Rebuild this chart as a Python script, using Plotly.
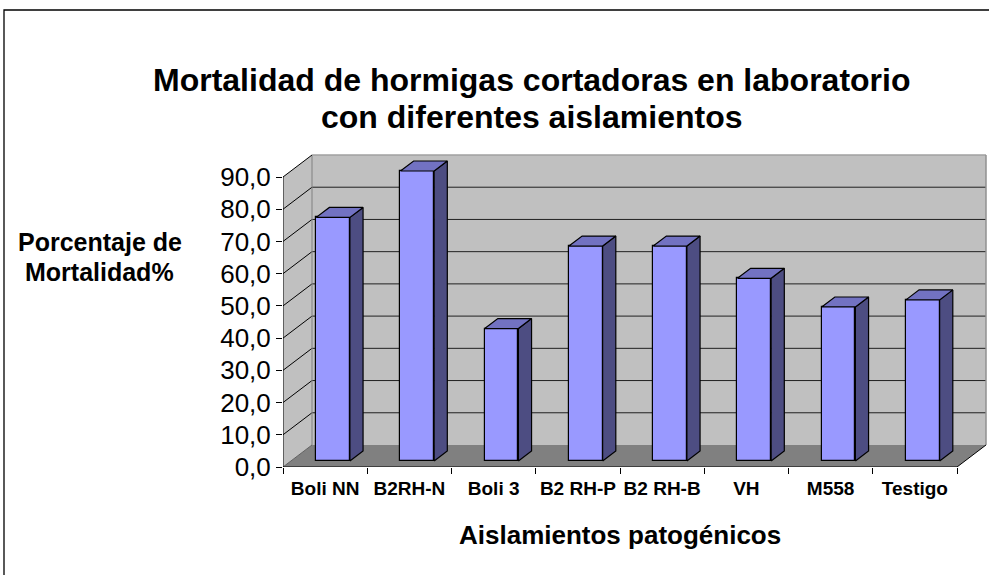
import plotly.graph_objects as go

# ---- data ----
categories = ["Boli NN", "B2RH-N", "Boli 3", "B2 RH-P", "B2 RH-B", "VH", "M558", "Testigo"]
mortality = [75.6, 90.0, 41.1, 66.7, 66.7, 56.7, 47.8, 50.0]
y_ticks = [0, 10, 20, 30, 40, 50, 60, 70, 80, 90]
y_tick_labels = ["0,0", "10,0", "20,0", "30,0", "40,0", "50,0", "60,0", "70,0", "80,0", "90,0"]
title_lines = ["Mortalidad de hormigas cortadoras en laboratorio", "con diferentes aislamientos"]
y_title_lines = ["Porcentaje de", "Mortalidad%"]
x_title = "Aislamientos patogénicos"

# ---- 3D oblique geometry (in axis units) ----
n = len(categories)
ymax_val = 90
DX, DY = 0.3442, 6.83            # depth offset of back wall
F1, F2 = 0.273, 0.727            # bar front/back depth fractions
BW = 0.40                        # bar width
ddx, ddy = (F2 - F1) * DX, (F2 - F1) * DY
bx0, by0 = F1 * DX, F1 * DY

FONT = "Liberation Sans, Arial, sans-serif"
WALL = "#c0c0c0"
FLOOR = "#808080"
FRONT = "#9999ff"
SIDE = "#4d4d82"
TOP = "#7272c2"

W, H = 989, 575
L, R, T, B = 283, 0, 150, 108
px_x = (957 - 283) / 8
px_y = (467 - 177) / 90
xmax = (W - L - R) / px_x
ymax = (H - T - B) / px_y

def xp(px):
    return (px - L) / (W - L - R)

def yp(py):
    return (H - B - py) / (H - T - B)

shapes = []
def poly(pts, fill, line="rgba(0,0,0,0)", width=0):
    path = "M " + " L ".join(f"{x},{y}" for x, y in pts) + " Z"
    shapes.append(dict(type="path", path=path, xref="x", yref="y", fillcolor=fill,
                       line=dict(color=line, width=width), layer="below"))

def seg(x0, y0, x1, y1, color, width=1):
    shapes.append(dict(type="line", x0=x0, y0=y0, x1=x1, y1=y1, xref="x", yref="y",
                       line=dict(color=color, width=width), layer="below"))

# walls and floor
poly([(DX, DY), (n + DX, DY), (n + DX, ymax_val + DY), (DX, ymax_val + DY)], WALL)
poly([(0, 0), (DX, DY), (DX, ymax_val + DY), (0, ymax_val)], WALL)
poly([(0, 0), (n, 0), (n + DX, DY), (DX, DY)], FLOOR)
# gridlines
for v in y_ticks[1:-1]:
    seg(0, v, DX, v + DY, "#000000", 1)
    seg(DX, v + DY, n + DX, v + DY, "#202020", 1)
# wall edges
seg(DX, DY, DX, ymax_val + DY, "#808080", 1)
seg(DX, ymax_val + DY, n + DX, ymax_val + DY, "#a0a0a0", 1.5)
seg(n + DX, DY, n + DX, ymax_val + DY, "#909090", 1.5)
seg(0, ymax_val, DX, ymax_val + DY, "#000000", 1)
seg(0, 0, DX, DY, "#606060", 1)
seg(n, 0, n + DX, DY, "#000000", 1)
# front axes
seg(0, 0, 0, ymax_val, "#000000", 1)
seg(0, 0, n, 0, "#000000", 1)

fig = go.Figure()

# bar side and top faces
for i, v in enumerate(mortality):
    xl = i + 0.5 + bx0 - BW / 2
    xr = i + 0.5 + bx0 + BW / 2
    b = by0
    fig.add_trace(go.Scatter(
        x=[xr, xr + ddx, xr + ddx, xr, xr],
        y=[b, b + ddy, b + v + ddy, b + v, b],
        fill="toself", fillcolor=SIDE, mode="lines",
        line=dict(color="#000000", width=1.2), hoverinfo="skip", showlegend=False))
    fig.add_trace(go.Scatter(
        x=[xl, xl + ddx, xr + ddx, xr, xl],
        y=[b + v, b + v + ddy, b + v + ddy, b + v, b + v],
        fill="toself", fillcolor=TOP, mode="lines",
        line=dict(color="#000000", width=1.2), hoverinfo="skip", showlegend=False))

# bar front faces
fig.add_trace(go.Bar(
    x=[i + 0.5 + bx0 for i in range(n)], y=mortality, base=by0, width=BW,
    marker=dict(color=FRONT, line=dict(color="#000000", width=1.2)),
    showlegend=False, hoverinfo="skip"))

# outer chart border
shapes.append(dict(type="rect", xref="paper", yref="paper",
                   x0=xp(4), x1=xp(1000), y0=yp(600), y1=yp(10),
                   line=dict(color="#000000", width=1.3), fillcolor="rgba(0,0,0,0)"))

annotations = []
for k, line in enumerate(title_lines):
    annotations.append(dict(text=f"<b>{line}</b>", xref="paper", yref="paper",
                            x=xp(531), y=yp(80 + 37 * k),
                            showarrow=False, xanchor="center", yanchor="middle",
                            font=dict(family=FONT, size=32, color="#000000")))
for k, line in enumerate(y_title_lines):
    annotations.append(dict(text=f"<b>{line}</b>", xref="paper", yref="paper",
                            x=xp(100), y=yp(242 + 30 * k),
                            showarrow=False, xanchor="center", yanchor="middle",
                            font=dict(family=FONT, size=25, color="#000000")))
annotations.append(dict(text=f"<b>{x_title}</b>", xref="paper", yref="paper",
                        x=xp(620), y=yp(535),
                        showarrow=False, xanchor="center", yanchor="middle",
                        font=dict(family=FONT, size=26, color="#000000")))

fig.update_layout(
    width=W, height=H, margin=dict(l=L, r=R, t=T, b=B, autoexpand=False),
    paper_bgcolor="#ffffff", plot_bgcolor="rgba(0,0,0,0)",
    shapes=shapes, annotations=annotations, bargap=0,
    xaxis=dict(range=[0, xmax], showgrid=False, zeroline=False, showline=False,
               tickmode="array", tickvals=[i + 0.5 for i in range(n)],
               ticktext=[f"<b>{c}</b>" for c in categories], ticks="",
               tickfont=dict(family=FONT, size=19, color="#000000"),
               ticklabelstandoff=8,
               minor=dict(tickmode="array", tickvals=list(range(n + 1)), ticks="outside",
                          ticklen=6, tickcolor="#000000", tickwidth=1, showgrid=False)),
    yaxis=dict(range=[0, ymax], showgrid=False, zeroline=False, showline=False,
               tickmode="array", tickvals=y_ticks, ticktext=y_tick_labels,
               ticks="outside", ticklen=6, tickcolor="#000000", tickwidth=1,
               tickfont=dict(family=FONT, size=26, color="#000000")),
)

fig.write_html("out.html", config={"displayModeBar": False},
               post_script="document.body.style.margin='0';document.body.style.overflow='hidden';")
